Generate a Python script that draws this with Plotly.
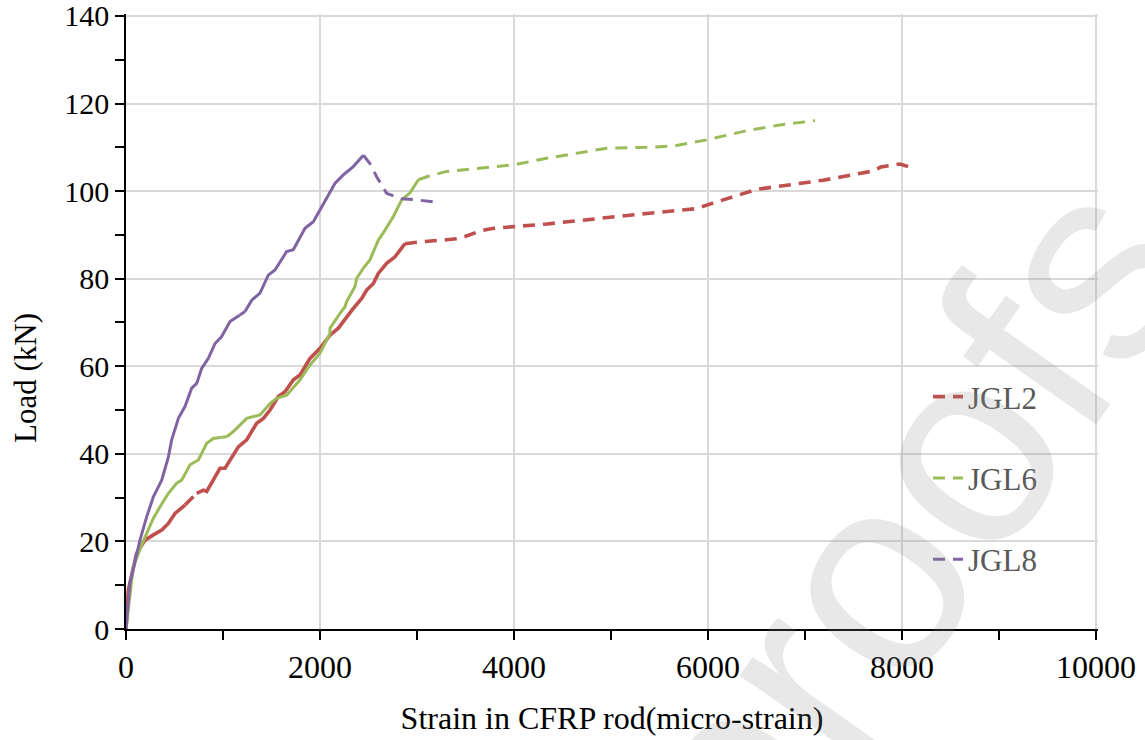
import plotly.graph_objects as go

# ---------------- data ----------------
strain_jgl2 = [0, 24, 110, 196, 282, 368, 437, 505, 608, 729, 797, 832, 918, 969, 1021,
               1158, 1244, 1347, 1416, 1485, 1570, 1639, 1725, 1794, 1897, 2000, 2103,
               2189, 2343, 2430, 2481, 2550, 2601, 2687, 2773, 2876, 3031, 3306, 3443,
               3649, 3787, 4337, 4852, 5368, 5883, 5986, 6502, 6742, 7189, 7704, 7780,
               7979, 8065]
load_jgl2 = [0, 8.9, 17.3, 20.3, 21.5, 22.6, 24.1, 26.4, 28.3, 31.0, 31.7, 31.4, 34.8,
             36.7, 36.7, 41.6, 43.2, 47.0, 48.1, 50.0, 53.1, 54.2, 56.9, 58.0, 61.8,
             64.1, 67.1, 68.7, 73.2, 75.5, 77.4, 78.9, 81.2, 83.5, 85.0, 88.0, 88.4,
             88.9, 89.2, 90.9, 91.5, 92.5, 93.8, 94.9, 96.0, 96.8, 100.4, 101.2, 102.5,
             104.6, 105.5, 106.2, 105.6]

strain_jgl6 = [0, 75, 162, 230, 282, 351, 437, 522, 574, 660, 746, 832, 900, 986, 1038,
               1107, 1244, 1381, 1485, 1553, 1656, 1794, 1897, 2000, 2103, 2103, 2206,
               2258, 2275, 2361, 2378, 2447, 2515, 2601, 2670, 2756, 2842, 2928, 3014,
               3117, 3306, 3649, 3993, 4337, 4680, 4955, 5368, 5643, 5986, 6398, 6742,
               7103]
load_jgl6 = [0, 14.2, 19.2, 22.6, 25.3, 27.9, 31.0, 33.3, 34.0, 37.5, 38.6, 42.4, 43.5,
             43.8, 43.9, 45.1, 48.1, 48.9, 51.5, 52.7, 53.4, 56.9, 60.3, 63.0, 67.5,
             68.7, 72.1, 73.6, 74.8, 78.2, 80.1, 82.4, 84.3, 88.8, 91.1, 94.2, 98.0,
             99.6, 102.6, 103.4, 104.5, 105.2, 106.0, 107.5, 108.7, 109.8, 110.0,
             110.3, 111.7, 113.8, 115.1, 116.1]

strain_jgl8 = [0, 41, 144, 213, 282, 368, 437, 471, 540, 608, 677, 729, 780, 849, 918,
               986, 1072, 1175, 1227, 1296, 1381, 1467, 1536, 1656, 1725, 1845, 1931,
               2000, 2155, 2240, 2343, 2447, 2515, 2584, 2687, 2825, 2997, 3220]
load_jgl8 = [0, 10.5, 20.3, 25.6, 30.2, 34.0, 39.3, 43.2, 48.1, 50.8, 55.0, 56.1, 59.5,
             61.8, 65.2, 66.8, 70.2, 71.7, 72.5, 75.1, 76.7, 80.8, 82.0, 86.2, 86.6,
             91.5, 93.0, 95.7, 101.8, 103.7, 105.6, 108.2, 106.3, 103.3, 99.5, 98.3,
             98.0, 97.4]

series_names = ["JGL2", "JGL6", "JGL8"]
x_ticks = [0, 2000, 4000, 6000, 8000, 10000]
y_ticks = [0, 20, 40, 60, 80, 100, 120, 140]

# ---------------- styling ----------------
SERIF = "Liberation Serif, Times New Roman, serif"
DASH = "12px,8px"
GRID = "#D9D9D9"

series = [
    (series_names[0], strain_jgl2, load_jgl2, "#C0504D", 3.6,
     [(0, 8, "solid"), (8, 9, DASH), (9, 35, "solid"), (35, None, DASH)]),
    (series_names[1], strain_jgl6, load_jgl6, "#9BBB59", 3.0,
     [(0, 13, "solid"), (13, 14, DASH), (14, 38, "solid"), (38, None, DASH)]),
    (series_names[2], strain_jgl8, load_jgl8, "#8064A2", 3.0,
     [(0, 17, "solid"), (17, 18, DASH), (18, 31, "solid"), (31, None, DASH)]),
]

fig = go.Figure()
for name, xs, ys, color, width, segs in series:
    for k, (a, b, dash) in enumerate(segs):
        end = len(xs) if b is None else b + 1
        last = k == len(segs) - 1
        fig.add_trace(go.Scatter(
            x=xs[a:end], y=ys[a:end], mode="lines", name=name,
            legendgroup=name, showlegend=last,
            line=dict(color=color, width=width, dash=dash),
            hoverinfo="x+y+name",
        ))

# plot area: range extended slightly so the edge gridlines stay inside
W, H = 1145, 740
L, R, T, B = 126, 47, 14, 111
X_MAX, Y_MAX = 10020, 140.45
pw, ph = W - L - R, H - T - B

def px(xp):
    return (xp - L) / pw

def py(yp):
    return (H - B - yp) / ph

fig.update_layout(
    width=W, height=H,
    margin=dict(l=L, r=R, t=T, b=B, pad=0, autoexpand=False),
    paper_bgcolor="white", plot_bgcolor="white",
    font=dict(family=SERIF, size=31, color="black"),
    showlegend=True,
    legend=dict(
        x=px(928), y=py(370), xanchor="left", yanchor="top",
        bgcolor="rgba(0,0,0,0)", borderwidth=0,
        font=dict(family=SERIF, size=31, color="#595959"),
        tracegroupgap=38, traceorder="grouped",
    ),
    xaxis=dict(
        range=[0, X_MAX], tickvals=x_ticks, ticktext=[str(v) for v in x_ticks],
        showgrid=True, gridcolor=GRID, gridwidth=1.5,
        zeroline=False, showline=True, linecolor="black", linewidth=1.5,
        ticks="outside", ticklen=9, tickwidth=1.5, tickcolor="black",
        minor=dict(dtick=1000, ticks="outside", ticklen=9, tickwidth=1.5,
                   tickcolor="black", showgrid=False),
        tickfont=dict(family=SERIF, size=32), ticklabeloverflow="allow",
        automargin=False,
        title=dict(text="Strain in CFRP rod(micro-strain)",
                   font=dict(family=SERIF, size=32), standoff=22),
        fixedrange=True,
    ),
    yaxis=dict(
        range=[0, Y_MAX], tickvals=y_ticks, ticktext=[str(v) for v in y_ticks],
        showgrid=True, gridcolor=GRID, gridwidth=1.5,
        zeroline=False, showline=True, linecolor="black", linewidth=1.5,
        ticks="outside", ticklen=9, tickwidth=1.5, tickcolor="black",
        minor=dict(dtick=10, ticks="outside", ticklen=9, tickwidth=1.5,
                   tickcolor="black", showgrid=False),
        tickfont=dict(family=SERIF, size=30), ticklabeloverflow="allow",
        automargin=False,
        fixedrange=True,
    ),
    shapes=[
        # gridlines at the top (140) and right (10000) ends of the axes
        dict(type="line", xref="paper", yref="y", layer="between",
             x0=0, x1=1, y0=y_ticks[-1], y1=y_ticks[-1],
             line=dict(color=GRID, width=1.5)),
        dict(type="line", xref="x", yref="paper", layer="between",
             x0=x_ticks[-1], x1=x_ticks[-1], y0=0, y1=1,
             line=dict(color=GRID, width=1.5)),
        # white legend panel hiding the gridlines
        dict(type="rect", xref="paper", yref="paper", layer="between",
             x0=px(866), x1=px(1067), y0=py(591), y1=py(350),
             fillcolor="white", line=dict(width=0)),
    ],
    annotations=[
        dict(text="Load (kN)", xref="paper", yref="paper",
             x=px(26), y=py(378), textangle=-90, showarrow=False,
             xanchor="center", yanchor="middle",
             font=dict(family=SERIF, size=31, color="black")),
        dict(text="proofs", xref="paper", yref="paper",
             x=px(905), y=py(530), textangle=-55, showarrow=False,
             xanchor="center", yanchor="middle",
             font=dict(family="Liberation Sans, Arial, sans-serif", size=280,
                       color="rgba(140,140,140,0.2)")),
    ],
)

fig.write_html("out.html")
